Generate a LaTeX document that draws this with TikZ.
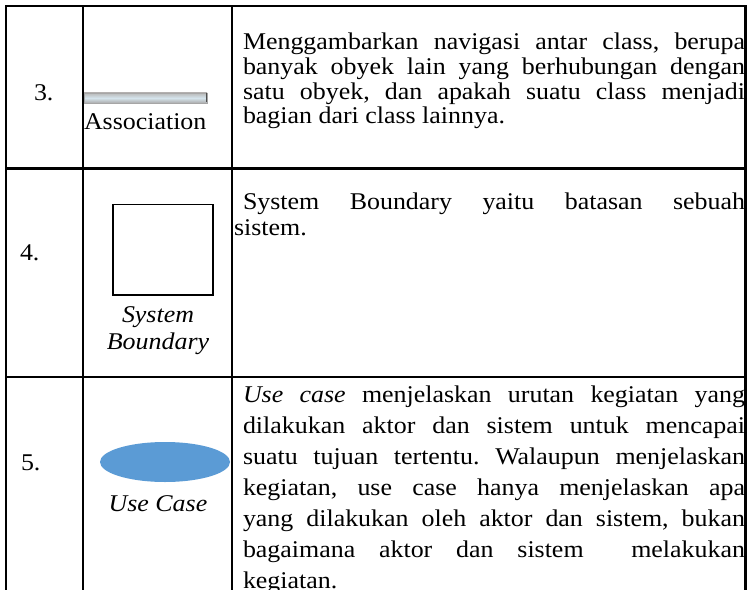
\documentclass[tikz,border=0pt]{standalone}
\usepackage{fontspec}
\setmainfont{Liberation Serif}[FakeStretch=1.08]
\usetikzlibrary{shapes.geometric}
\definecolor{ucblue}{HTML}{5B9BD5}
\definecolor{barmid}{HTML}{D5E4EC}
\tikzset{
  grid/.style={line width=2.2bp, line cap=rect},
  txt/.style={anchor=base west, inner sep=0pt, outer sep=0pt, font=\fontsize{24bp}{28bp}\selectfont},
  ctxt/.style={anchor=base, inner sep=0pt, outer sep=0pt, font=\fontsize{24bp}{28bp}\selectfont\itshape},
}
\newcommand{\jl}[1]{\makebox[502bp][s]{#1}}
\frenchspacing
\begin{document}
\begin{tikzpicture}[x=1bp,y=-1bp]
\useasboundingbox (0,0) rectangle (750,590);
% table rules
\draw[grid] (6,6) -- (745.5,6);
\draw[grid] (6,168.5) -- (745.5,168.5);
\draw[grid] (6,376.8) -- (745.5,376.8);
\draw[grid] (6,6) -- (6,592);
\draw[grid] (82.7,6) -- (82.7,592);
\draw[grid] (232,6) -- (232,592);
\draw[grid] (745.5,6) -- (745.5,592);

% row 3.
\node[txt] (n3) at (34,101) {3.};
\shade[top color=gray!55, bottom color=gray!65, middle color=barmid, draw=gray!70, line width=0.6bp]
  (84,93) rectangle (207,103);
\draw[line width=1.2bp, black!70] (206.5,93.5) -- (206.5,102.5);
\node[txt] (assoc) at (84,129.5) {Association};
\node[txt] (d1a) at (243,50) {\jl{Menggambarkan navigasi antar class, berupa}};
\node[txt] (d1b) at (243,75) {\jl{banyak obyek lain yang berhubungan dengan}};
\node[txt] (d1c) at (243,99.5) {\jl{satu obyek, dan apakah suatu class menjadi}};
\node[txt] (d1d) at (243,124) {bagian dari class lainnya.};

% row 4.
\node[txt] (n4) at (20,260) {4.};
\draw[line width=1.6bp] (113,204.5) rectangle (213,295);
\node[ctxt] (sb1) at (158,322) {System};
\node[ctxt] (sb2) at (158,349) {Boundary};
\node[txt] (d2a) at (243,210) {\makebox[502bp][s]{System Boundary yaitu batasan sebuah}};
\node[txt] (d2b) at (234,235) {sistem.};

% row 5.
\node[txt] (n5) at (21,470) {5.};
\node[ellipse, fill=ucblue, minimum width=130bp, minimum height=40bp, inner sep=0pt] (uc) at (165,462) {};
\node[ctxt] (uclab) at (158,511) {Use Case};
\node[txt] (d3a) at (243,402) {\jl{\textit{Use case} menjelaskan urutan kegiatan yang}};
\node[txt] (d3b) at (243,433) {\jl{dilakukan aktor dan sistem untuk mencapai}};
\node[txt] (d3c) at (243,464) {\jl{suatu tujuan tertentu. Walaupun menjelaskan}};
\node[txt] (d3d) at (243,495) {\jl{kegiatan, use case hanya menjelaskan apa}};
\node[txt] (d3e) at (243,526) {\jl{yang dilakukan oleh aktor dan sistem, bukan}};
\node[txt] (d3f) at (243,557) {\jl{bagaimana aktor dan sistem \ melakukan}};
\node[txt] (d3g) at (243,588) {kegiatan.};
\end{tikzpicture}
\end{document}
